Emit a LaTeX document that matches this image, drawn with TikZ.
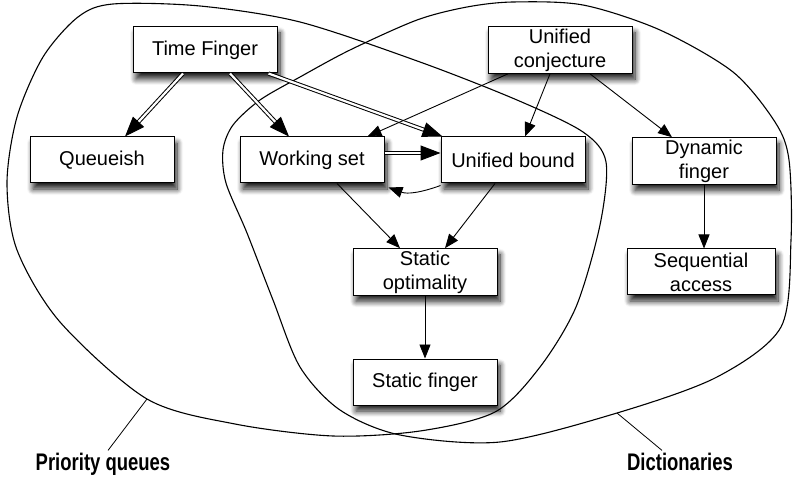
\documentclass[tikz,border=0pt]{standalone}
\usepackage{fontspec}
\setmainfont{Liberation Sans}
\usetikzlibrary{arrows.meta,shadows.blur}

\begin{document}
\begin{tikzpicture}[x=1pt, y=-1pt,
    box/.style={draw, fill=white, line width=1pt, minimum width=144pt, minimum height=46pt,
      align=center, inner sep=2pt, font=\fontsize{20}{24}\selectfont,
      blur shadow={shadow xshift=3pt, shadow yshift=-6pt, shadow blur radius=6pt,
        shadow blur steps=10, shadow opacity=90}},
    arr/.style={line width=0.9pt, -{Triangle[length=14pt,width=11pt]}},
    dbl/.style={double, double distance=2.2pt, line width=1pt, -{Triangle[length=20pt,width=15pt]}},
    blob/.style={line width=1.1pt},
    tag/.style={font=\fontsize{24}{26}\selectfont\bfseries, inner sep=2pt}]
  \useasboundingbox (0,0) rectangle (795,478);

  % the two sets
  \draw[blob] plot[smooth cycle] coordinates {(113,4) (200,6) (300,22) (420,62) (517,100)
    (583,132) (606,162) (600,225) (576,307) (540,367) (495,412) (420,431) (333,436) (235,424)
    (147,399) (60,322) (17,250) (7,183) (17,117) (43,57) (78,17)};
  \draw[blob] plot[smooth cycle] coordinates {(513,2) (583,5) (660,30) (733,72) (775,122)
    (789,160) (791,240) (781,327) (717,377) (617,413) (500,442) (400,435) (340,410) (300,367)
    (273,300) (247,233) (226,183) (223,150) (233,125) (260,100) (300,77) (350,50) (417,20) (467,7)};
  \coordinate (pqpt) at (147,399);
  \coordinate (dcpt) at (617,413);

  \node[box] (tf) at (205,50) {Time Finger};
  \node[box] (uc) at (560,50) {Unified\\conjecture};
  \node[box] (qu) at (102,160) {Queueish};
  \node[box] (ws) at (312,160) {Working set};
  \node[box] (ub) at (513,160) {Unified bound};
  \node[box] (df) at (704,161) {Dynamic\\finger};
  \node[box, minimum width=148pt] (sa) at (701,272) {Sequential\\access};
  \node[box] (so) at (425,272) {Static\\optimality};
  \node[box] (sf) at (425,382) {Static finger};

  \draw[dbl] ([xshift=-22pt]tf.south) -- ([xshift=23pt]qu.north);
  \draw[dbl] ([xshift=25pt]tf.south) -- ([xshift=-23pt]ws.north);
  \draw[dbl] ([xshift=-9pt]tf.south east) -- ([xshift=2pt]ub.north west);
  \draw[dbl] ([yshift=7pt]ws.east) -- ([yshift=7pt]ub.west);
  \draw[arr] ([yshift=-2pt]ub.south west) to[out=200, in=-20] ([shift={(4pt,-4pt)}]ws.south east);

  \draw[arr] ([xshift=-52pt]uc.south) -- ([xshift=-17pt]ws.north east);
  \draw[arr] ([xshift=-10pt]uc.south) -- ([xshift=12pt]ub.north);
  \draw[arr] ([xshift=30pt]uc.south) -- ([xshift=-32pt]df.north);
  \draw[arr] (df.south) -- (df.south |- sa.north);
  \draw[arr] ([xshift=25pt]ws.south) -- ([xshift=-25pt]so.north);
  \draw[arr] ([xshift=-18pt]ub.south) -- ([xshift=20pt]so.north);
  \draw[arr] (so) -- (sf);

  \node[tag, anchor=base] (pq) at (103,470) {\scalebox{0.77}[1]{Priority queues}};
  \node[tag, anchor=base] (dc) at (680,470) {\scalebox{0.77}[1]{Dictionaries}};
  \draw[line width=0.8pt] (pqpt) -- ([xshift=5pt]pq.north);
  \draw[line width=0.8pt] (dcpt) -- ([xshift=-18pt]dc.north);
\end{tikzpicture}
\end{document}
